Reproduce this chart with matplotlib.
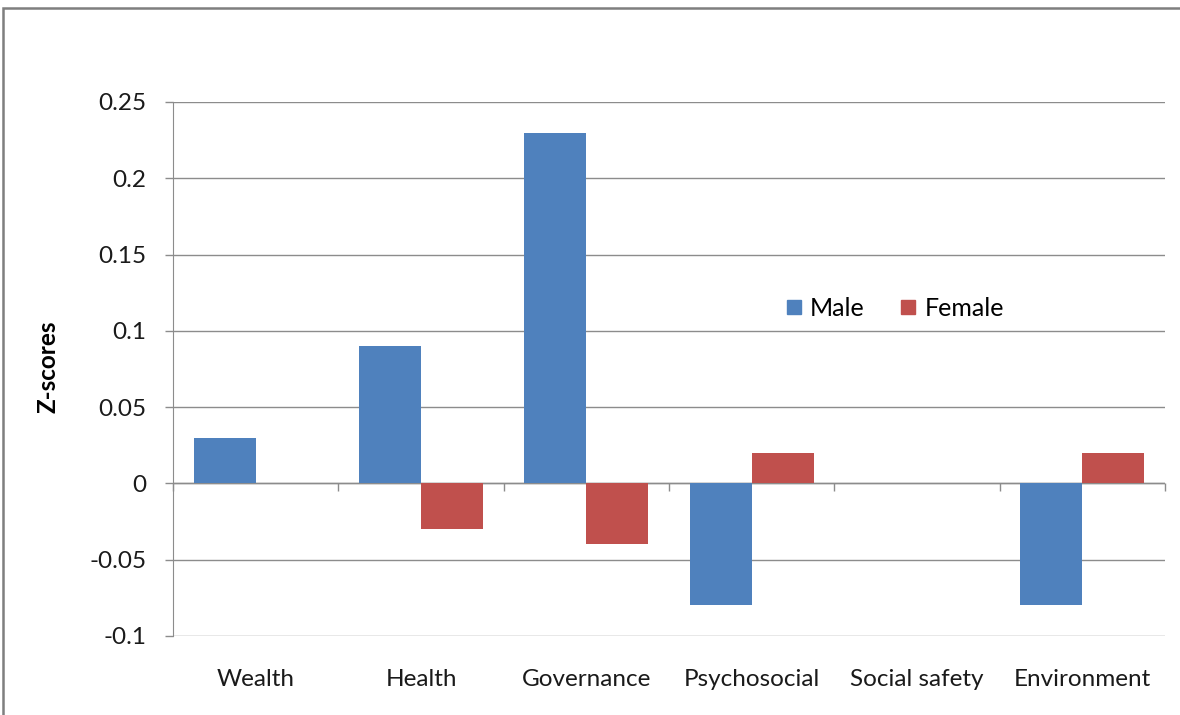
import numpy as np
import matplotlib
matplotlib.use('Agg')
import matplotlib.pyplot as plt
from matplotlib.lines import Line2D
from matplotlib.patches import Rectangle

plt.rcParams['font.family'] = ['Lato', 'DejaVu Sans']

categories = ['Wealth', 'Health', 'Governance', 'Psychosocial', 'Social safety', 'Environment']
male = [0.03, 0.09, 0.23, -0.08, 0.0, -0.08]
female = [0.0, -0.03, -0.04, 0.02, 0.0, 0.02]
yticks = [-0.1, -0.05, 0, 0.05, 0.1, 0.15, 0.2, 0.25]

BLUE = '#4F81BD'
RED = '#C0504D'
GRID = '#8c8c8c'
TXT = '#1a1a1a'

fig = plt.figure(figsize=(11.8, 7.15), dpi=100)
ax = fig.add_axes([173 / 1180, 1 - 636 / 715, 992 / 1180, 534 / 715])

x = np.arange(len(categories))
w = 0.375
ax.bar(x - w / 2, male, w, color=BLUE, zorder=3)
ax.bar(x + w / 2, female, w, color=RED, zorder=3)

ax.set_xlim(-0.5, len(categories) - 0.5)
ax.set_ylim(-0.1, 0.25)
ax.set_yticks(yticks)
ax.set_yticklabels([f'{v:g}' for v in yticks], fontsize=17.5, color=TXT)
ax.yaxis.grid(True, color=GRID, lw=1.0, zorder=0)
ax.tick_params(axis='y', length=6, width=1, color=GRID, pad=13)

# category labels at the bottom, no tick marks
ax.set_xticks(x)
ax.set_xticklabels(categories, fontsize=17.5, color=TXT)
ax.tick_params(axis='x', length=0, pad=24)

for s in ('top', 'right', 'bottom'):
    ax.spines[s].set_visible(False)
ax.spines['left'].set_color(GRID)

# horizontal axis line at zero with ticks between categories
ax.axhline(0, color=GRID, lw=1.0, zorder=2)
zero_pos = (0 - ax.get_ylim()[0]) / (ax.get_ylim()[1] - ax.get_ylim()[0])
sec = ax.secondary_xaxis(zero_pos)
sec.set_xticks(np.arange(len(categories) + 1) - 0.5)
sec.set_xticklabels([])
sec.tick_params(length=6, width=1, color=GRID, direction='out')
sec.spines['bottom'].set_visible(False)

ax.set_ylabel('Z-scores', fontsize=17.5, fontweight='bold')
ax.yaxis.set_label_coords(-0.114, 0.504)

handles = [Line2D([], [], marker='s', ls='none', color=BLUE, markersize=10),
           Line2D([], [], marker='s', ls='none', color=RED, markersize=10)]
fig.legend(handles, ['Male', 'Female'], loc='center', ncol=2, frameon=False,
           bbox_to_anchor=(0.757, 1 - 308 / 715), fontsize=18,
           handletextpad=0.2, columnspacing=1.3, handlelength=0.9)

# outer border
fig.patches.append(Rectangle((3 / 1180, -0.1), 1.2, 1 - 8 / 715 + 0.1,
                             transform=fig.transFigure, fill=False,
                             edgecolor='#7f7f7f', lw=1.8))

fig.savefig('out.png', dpi=100)
